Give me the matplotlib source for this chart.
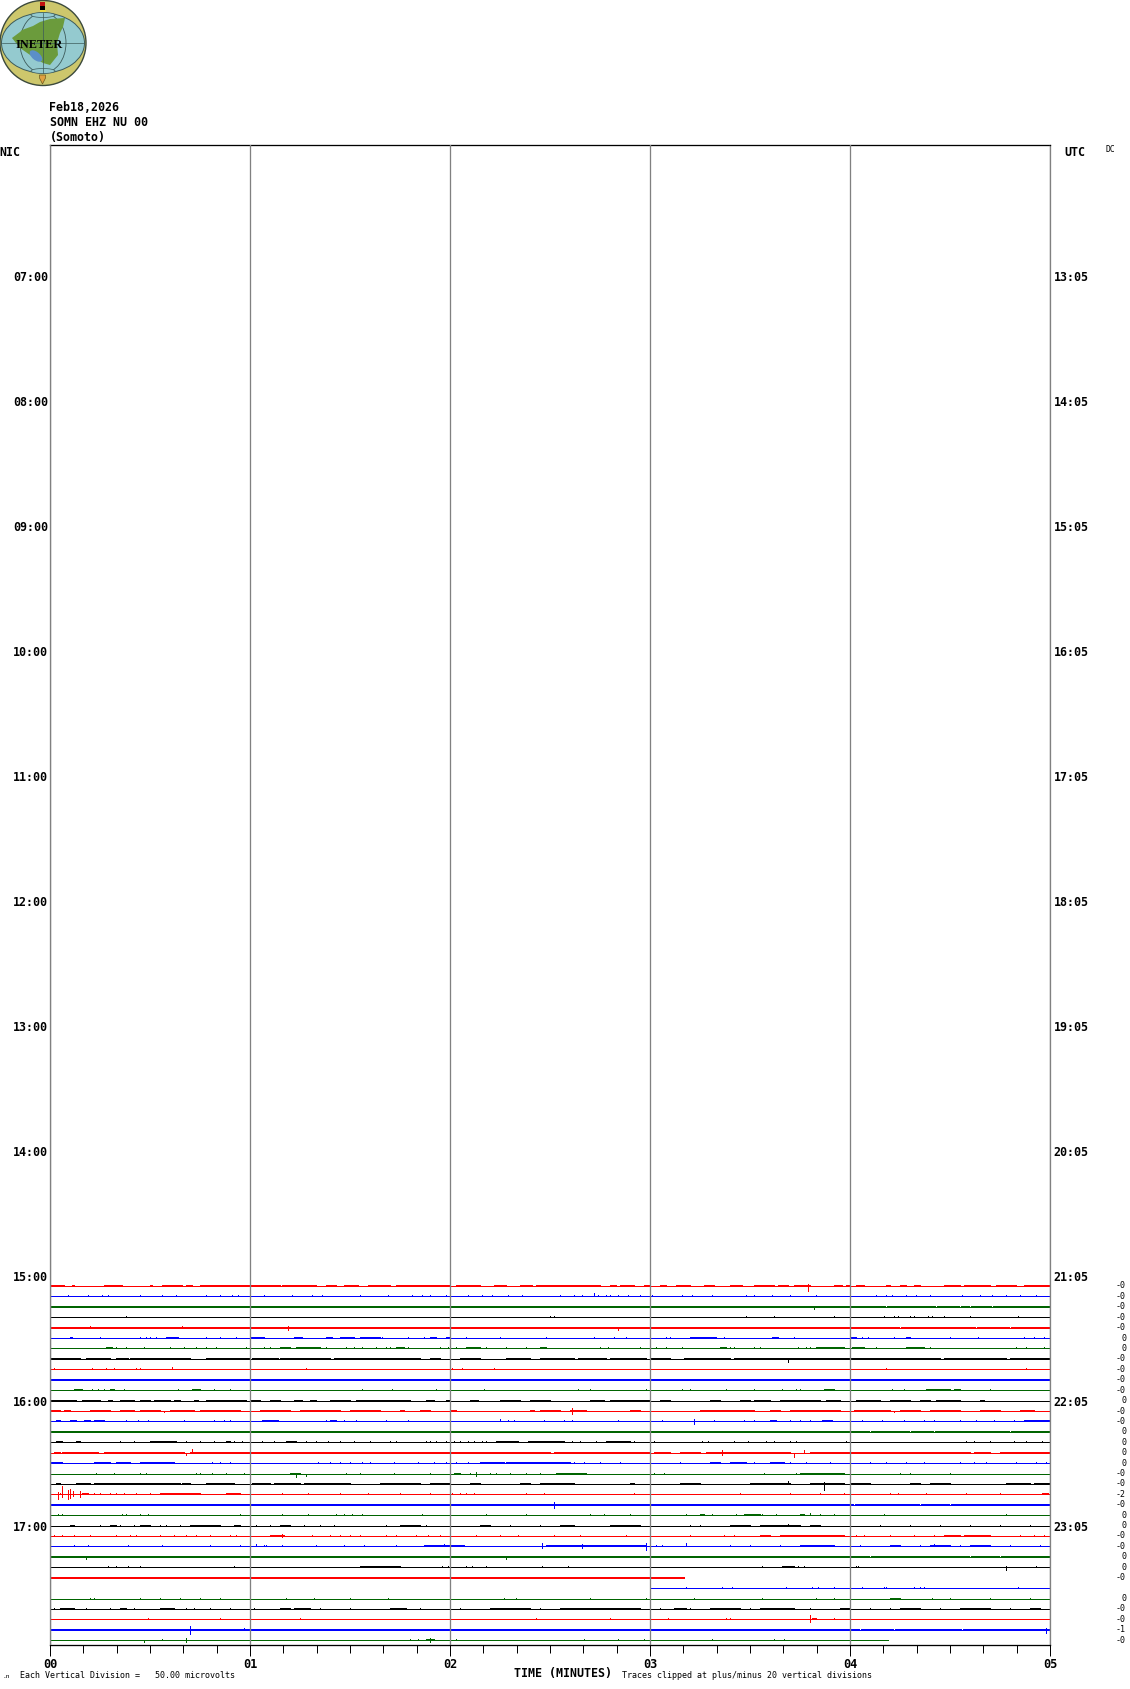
import numpy as np
from matplotlib import pyplot as plt
from matplotlib.patches import Ellipse, Polygon, Rectangle

# helicorder page, SOMN EHZ NU 00
hour_ticks = [7, 8, 9, 10, 11, 12, 13, 14, 15, 16, 17]
nic_labels = ["07:00", "08:00", "09:00", "10:00", "11:00", "12:00", "13:00", "14:00", "15:00", "16:00", "17:00"]
utc_labels = ["13:05", "14:05", "15:05", "16:05", "17:05", "18:05", "19:05", "20:05", "21:05", "22:05", "23:05"]
minute_ticks = [0, 1, 2, 3, 4, 5]
minute_labels = ["00", "01", "02", "03", "04", "05"]

trace_colors = ["red", "blue", "#006400", "black"]

# per row: first and last minute drawn
row_start = [0] * 29 + [3.0] + [0] * 5
row_end = [5] * 28 + [3.17, 5] + [5] * 4 + [4.19]
row_means = ["-0", "-0", "-0", "-0", "-0", "0", "0", "-0", "-0", "-0", "-0", "0", "-0", "-0", "0", "0", "0", "0",
             "-0", "-0", "-2", "-0", "0", "0", "-0", "-0", "0", "0", "-0", "", "0", "-0", "-0", "-1", "-0"]

# stretches (minutes) where the trace is two pixels thick
busy = [
    [(0, .07), (.11, .12), (.27, .36), (.5, .51), (.56, .66), (.68, .71), (.75, 1), (1, 1.15), (1.16, 1.33), (1.38, 1.43), (1.47, 1.54), (1.59, 1.65),
     (1.65, 1.7), (1.73, 2), (2.03, 2.15), (2.22, 2.28), (2.35, 2.41), (2.43, 2.75), (2.8, 2.83), (2.85, 2.92), (2.97, 3), (3.05, 3.08), (3.13, 3.2), (3.27, 3.32), (3.4, 3.46), (3.52, 3.62),
     (3.64, 3.69), (3.72, 3.8), (3.92, 3.96), (3.98, 4), (4.03, 4.07), (4.18, 4.2), (4.25, 4.28), (4.32, 4.35), (4.47, 4.55), (4.57, 4.7), (4.73, 4.83), (4.87, 5)],
    [],
    [(0, 5)],
    [],
    [(0, 5)],
    [(.1, .11), (.58, .64), (1, 1.07), (1.22, 1.26), (1.38, 1.41), (1.45, 1.52), (1.55, 1.65), (1.9, 1.93), (1.98, 2), (3.2, 3.33), (3.61, 3.64), (4, 4.03), (4.28, 4.3)],
    [(.28, .31), (1.15, 1.2), (1.23, 1.35), (1.73, 1.77), (2.08, 2.15), (2.45, 2.48), (3.35, 3.38), (3.83, 3.97), (4.01, 4.07), (4.28, 4.37)],
    [(0, .15), (.18, .3), (.33, .39), (.4, .7), (.78, 1), (1.01, 1.14), (1.15, 1.4), (1.42, 1.65), (1.65, 1.85), (1.9, 1.95), (2.05, 2.15), (2.28, 2.4), (2.45, 2.62), (2.64, 2.78), (2.8, 2.98),
     (3, 3.1), (3.17, 3.4), (3.42, 3.5), (3.5, 3.75), (3.75, 4), (4, 4.45), (4.47, 4.78), (4.8, 5)],
    [],
    [(0, 5)],
    [(.12, .16), (.3, .32), (.71, .75), (3.87, 3.92), (4.38, 4.5), (4.52, 4.55)],
    [(0, .13), (.16, .25), (.29, .31), (.35, .42), (.45, .5), (.52, .6), (.62, .65), (.72, .74), (.78, .98), (1, 1.05), (1.1, 1.15), (1.22, 1.26), (1.3, 1.33), (1.4, 1.5), (1.53, 1.65),
     (1.65, 1.8), (1.88, 1.92), (1.98, 2), (2.1, 2.14), (2.25, 2.35), (2.4, 2.5), (2.7, 2.77), (2.8, 3), (3.05, 3.1), (3.3, 3.35), (3.45, 3.5), (3.52, 3.6), (3.65, 3.85), (3.88, 3.95),
     (4.03, 4.15), (4.2, 4.3), (4.35, 4.4), (4.43, 4.55), (4.65, 4.67)],
    [(0, .05), (.07, .1), (.2, .3), (.35, .42), (.45, .55), (.6, .72), (.75, .95), (1.05, 1.2), (1.25, 1.45), (1.5, 1.65), (1.75, 1.77), (1.85, 1.9), (2, 2.03), (2.4, 2.42), (2.45, 2.55),
     (2.6, 2.68), (2.9, 2.95), (3.25, 3.52), (3.6, 3.65), (3.7, 3.95), (4.02, 4.2), (4.25, 4.35), (4.4, 4.55), (4.65, 4.75), (4.85, 4.92)],
    [(.03, .05), (.1, .13), (.17, .2), (.22, .27), (1.06, 1.14), (1.4, 1.43), (3.6, 3.63), (3.86, 3.91), (4.87, 5)],
    [(0, 5)],
    [(.03, .06), (.13, .15), (.5, .63), (.88, .9), (1.18, 1.23), (2.23, 2.34), (2.39, 2.57), (2.78, 2.9)],
    [(.02, .05), (.06, .24), (.27, .67), (.7, 1), (1, 1.9), (1.65, 2), (2, 2.5), (2.52, 3), (3.02, 3.1), (3.15, 3.25), (3.28, 3.7), (3.8, 4.6), (4.62, 4.7), (4.75, 5)],
    [(0, .06), (.22, .3), (.33, .4), (.45, .62), (2.15, 2.27), (2.28, 2.6), (3.3, 3.35), (3.4, 3.48), (3.6, 3.67)],
    [(1.2, 1.25), (2.02, 2.05), (2.53, 2.68), (3.75, 3.97)],
    [(.03, .05), (.13, .2), (.22, .65), (.66, .7), (.78, .92), (1.01, 1.1), (1.12, 1.25), (1.27, 1.5), (1.65, 1.85), (1.9, 2), (2.1, 2.15), (2.35, 2.4), (2.45, 2.62), (2.9, 2.92), (3.15, 3.25),
     (3.5, 3.7), (3.8, 3.97), (4, 4.1), (4.3, 4.35), (4.4, 4.5), (4.78, 4.9), (4.92, 5)],
    [(.16, .19), (.55, .75), (.88, .95), (4.96, 4.99)],
    [(0, 5)],
    [(3.25, 3.27), (3.47, 3.55), (3.75, 3.77)],
    [(.1, .12), (.3, .33), (.45, .5), (.7, .85), (.92, .95), (1.15, 1.2), (1.75, 1.85), (2.15, 2.2), (2.55, 2.62), (2.8, 2.95), (3.4, 3.5), (3.55, 3.75), (3.8, 3.85)],
    [(1.1, 1.15), (1.15, 1.17), (3.55, 3.6), (3.65, 3.97), (4.47, 4.55), (4.57, 4.7)],
    [(1.87, 2.07), (2.48, 2.6), (2.6, 2.98), (3.75, 3.92), (4.2, 4.25), (4.4, 4.5), (4.6, 4.7)],
    [(0, 5)],
    [(1.55, 1.75), (3.66, 3.72)],
    [(0, 3.17)],
    [],
    [(4.2, 4.25)],
    [(.05, .12), (.35, .38), (.55, .62), (1.15, 1.2), (1.22, 1.3), (1.7, 1.78), (2.2, 2.4), (2.55, 2.95), (3.12, 3.18), (3.3, 3.45), (3.55, 3.72), (3.95, 4), (4.25, 4.35), (4.55, 4.7), (4.9, 4.95)],
    [(3.81, 3.83)],
    [(0, 5)],
    [(1.88, 1.92)],
]

# white dots in the rows that stay thick all the way
holes = {
    2: [.08, .18, .2, .25, .43, .48, .56, .61, .68, .75, .83, .92, 1.06, 1.16, 1.26, 1.31, 1.41, 1.51, 1.58, 1.7, 1.72, 1.77, 1.82, 2.01, 2.13, 2.23,
        2.33, 2.4, 2.48, 2.65, 2.68, 2.78, 2.85, 3.02, 3.1, 3.22, 3.33, 3.5, 3.55, 3.66, 3.8, 3.9, 4.0, 4.18, 4.32, 4.43, 4.55, 4.6, 4.71, 4.82, 4.9],
    4: [.1, .17, .22, .3, .33, .42, .47, .53, .6, .7, .76, .83, .9, .96, 1.04, 1.1, 1.22, 1.3, 1.37, 1.45, 1.54, 1.7, 1.75, 1.82, 1.87, 1.96, 2.03, 2.1,
        2.18, 2.24, 2.31, 2.38, 2.45, 2.58, 2.68, 2.75, 2.88, 3.03, 3.1, 3.24, 3.4, 3.46, 3.55, 3.62, 3.7, 3.8, 3.93, 4.0, 4.12, 4.25, 4.37, 4.63, 4.7, 4.8, 4.92],
    9: [.1, .28, .33, .45, .53, .62, .7, .76, .8, .82, .85, .87, .89, .91, .93, .95, .97, 1.02, 1.1, 1.17, 1.24, 1.35, 1.42, 1.52, 1.6, 1.7, 1.75, 1.85, 1.93,
        2.03, 2.15, 2.27, 2.35, 2.44, 2.6, 2.95, 3.05, 3.1, 3.2, 3.3, 3.38, 3.45, 3.6],
    14: [.03, .08, .26, .3, .33, .42, .5, .6, .68, .78, .85, .95, 1.1, 1.2, 1.3, 1.42, 1.55, 1.62, 1.7, 1.78, 1.85, 1.95, 2.03, 2.14, 2.25, 2.35, 2.45, 2.6,
         2.7, 2.85, 2.95, 3.15, 3.2, 3.3, 3.38, 3.5, 3.6, 3.7, 3.8, 3.95, 4.1, 4.3, 4.42, 4.7, 4.8, 4.9],
    21: [.27, .45, .6, .72, .76, .95, 1.03, 1.1, 1.18, 1.3, 1.42, 1.58, 1.72, 1.8, 1.95, 2.1, 2.3, 2.44, 2.7, 2.8, 2.93, 3.02, 3.15, 3.3, 3.42, 3.6, 3.72, 3.88, 4.02, 4.2, 4.35, 4.5, 4.62, 4.78, 4.9],
    26: [.1, .22, .3, .42, .55, .68, .8, .93, 1.12, 1.3, 1.46, 1.6, 1.75, 1.87, 2.02, 2.18, 2.36, 2.55, 2.7, 2.9, 3.1, 3.22, 3.4, 3.55, 3.7, 3.9, 4.1, 4.28, 4.4, 4.6, 4.75, 4.88],
    28: [.06, .2, .37, .43, .5, .62, .78, .95, 1.12, 1.3, 1.48, 1.62, 1.74, 1.95, 2.2, 2.45, 2.6, 2.72, 2.8, 2.85, 2.92, 3.03, 3.08, 3.11],
    33: [.2, .35, .5, .57, .8, .95, 1.12, 1.28, 1.44, 1.6, 1.82, 2.02, 2.3, 2.55, 2.72, 2.98, 3.14, 3.28, 3.5, 3.68, 3.85, 4.05, 4.22, 4.4, 4.56, 4.7, 4.88],
}

# one pixel specks above the trace
specks = [
    [],
    [.09, .19, .26, .29, .45, .56, .63, .78, .85, .91, .94, 1.07, 1.21, 1.31, 1.36, 1.55, 1.69, 1.81, 1.86, 1.9, 1.98, 2.09, 2.16, 2.21, 2.29, 2.36, 2.55, 2.62, 2.66, 2.74, 2.78, 2.8, 2.84, 2.89, 2.95,
     3.01, 3.16, 3.21, 3.31, 3.48, 3.52, 3.61, 3.7, 3.83, 4.13, 4.18, 4.21, 4.28, 4.33, 4.4, 4.56, 4.65, 4.71, 4.78, 4.85, 4.93],
    [],
    [.38, 2.5, 2.52, 3.48, 3.62, 3.92, 4.17, 4.22, 4.24, 4.3, 4.32, 4.39, 4.41, 4.47, 4.6, 4.84],
    [],
    [.25, .45, .48, .5, .53, .78, .85, .93, 1.66, 1.79, 1.87, 2.08, 2.25, 2.48, 2.72, 2.82, 2.88, 3.08, 3.1, 3.37, 3.72, 4.06, 4.09, 4.22, 4.5, 4.64, 4.87, 4.92, 4.97],
    [.33, .38, .47, .6, .67, .73, .78, .83, .98, 1, 1.07, 1.1, 1.38, 1.48, 1.52, 1.56, 1.63, 1.68, 1.7, 1.79, 1.95, 1.99, 2.03, 2.18, 2.28, 2.38, 2.75, 2.79, 2.95, 3.03, 3.08, 3.16, 3.4, 3.42,
     3.52, 3.55, 3.74, 3.78, 3.8, 4.13, 4.4, 4.83, 4.88, 4.97],
    [],
    [.02, .21, .28, .32, .43, .45, 1.28, 2.01, 2.06, 2.22, 4.18, 4.88],
    [],
    [.21, .24, .27, .37, .64, .82, .9, 1.56, 1.71, 1.93, 2.17, 2.64, 2.7, 2.98, 3.16, 3.2, 3.38, 3.52, 3.66, 3.73, 3.75, 4.21, 4.27, 4.7],
    [],
    [],
    [.38, .44, .49, .67, .82, .87, .9, 1.38, 1.47, 1.53, 1.68, 1.79, 2.29, 2.32, 2.47, 2.57, 2.61, 2.84, 3.06, 3.32, 3.47, 3.52, 3.6, 3.7, 3.75, 3.8, 3.86, 4, 4.06, 4.16, 4.27, 4.37, 4.42, 4.55, 4.63, 4.72, 4.82],
    [],
    [.35, .42, .51, .68, .75, .82, .92, .96, 1.06, 1.12, 1.28, 1.33, 1.39, 1.45, 1.52, 1.6, 1.7, 1.73, 1.88, 1.9, 1.93, 1.98, 2.02, 2.05, 2.09, 2.12, 2.16, 2.18, 2.61, 2.65, 2.73, 2.78, 2.92, 3.02, 3.26, 3.29, 3.42, 3.49, 3.58, 3.62, 3.7, 3.73, 3.98, 4.58, 4.62, 4.7, 4.82, 4.88, 4.96],
    [],
    [.06, .81, .85, .9, 1.34, 1.4, 1.45, 1.5, 1.56, 1.6, 1.72, 1.84, 1.92, 1.98, 2.03, 2.09, 2.62, 2.67, 2.75, 2.85, 3.15, 3.52, 3.7, 3.78, 3.9, 4, 4.1, 4.18, 4.28, 4.37, 4.55, 4.62, 4.68, 4.83, 4.93, 4.98],
    [.23, .32, .45, .48, .73, .75, .81, .88, .97, 1.48, 1.55, 1.72, 1.9, 2.02, 2.1, 2.2, 2.23, 2.3, 2.38, 2.45, 3.02, 3.07, 3.57, 3.73, 4, 4.25, 4.3, 4.5],
    [],
    [.05, .22, .25, .3, .33, .37, .43, .5, 1.16, 1.29, 1.45, 1.59, 1.75, 1.9, 2.01, 2.05, 2.08, 2.12, 2.38, 2.47, 2.92, 3.45, 3.7, 3.85, 3.97, 4.2, 4.24, 4.38, 4.58, 4.75],
    [],
    [.04, .06, .36, .38, .45, .49, .95, 1.16, 1.29, 1.43, 1.47, 1.51, 1.56, 1.86, 2.18, 2.38, 2.7, 2.77, 2.9, 3.18, 3.31, 3.43, 3.52, 3.56, 3.63, 3.85, 3.92, 4.17, 4.78],
    [.25, .3, .35, .42, .55, .58, .65, 1.03, 1.1, 1.27, 1.35, 1.42, 1.68, 1.88, 2, 2.3, 2.45, 3.2, 3.25, 4.15, 4.3, 4.45, 4.6, 4.75, 4.9],
    [.02, .06, .12, .2, .33, .4, .43, .55, .62, .68, .73, .8, .9, .93, 1.31, 1.4, 1.45, 1.5, 1.55, 1.68, 1.73, 1.83, 1.89, 1.95, 2.13, 2.25, 2.34, 2.52, 2.65, 2.88, 3.2, 3.37, 3.42, 4.03, 4.07, 4.2, 4.32, 4.42, 4.85, 4.92, 4.97],
    [.12, .19, .39, .56, .8, .95, 1.07, 1.08, 1.16, 1.33, 1.47, 1.57, 1.73, 3.03, 3.06, 3.4, 3.5, 3.65, 4.05, 4.2, 4.35, 4.55, 4.8, 4.95],
    [],
    [.29, .33, .39, .45, .92, 1.55, 1.63, 1.7, 1.96, 1.99, 2.08, 2.11, 2.18, 2.46, 2.59, 3.56, 3.74, 3.77, 4.03, 4.04, 4.78, 4.93],
    [],
    [3.18, 3.36, 3.41, 3.68, 3.81, 3.84, 3.92, 4.06, 4.17, 4.18, 4.32, 4.35, 4.37, 4.84],
    [.2, .22, .45, .55, .65, .75, .85, 1.18, 1.32, 1.5, 1.69, 2.27, 2.33, 2.7, 2.98, 3.22, 3.56, 3.83, 3.92, 4, 4.41, 4.5, 4.7, 4.9],
    [.02, .18, .3, .42, .68, .72, .8, .9, 1.02, 1.35, 1.5, 1.85, 2, 2.05, 2.45, 3.05, 3.2, 3.5, 3.8, 4.1, 4.2, 4.45, 4.8],
    [.49, .85, 1.25, 2.43, 2.8, 3.09, 3.38, 3.4, 3.92],
    [.35, .6, .81, 1.08, 3.96, 3.35, 3.38, 3.42],
    [0, .56, 1.8, 1.84, 2.03, 2.67, 2.84, 2.97, 3.31, 3.62, 3.67],
]

# bigger wiggles: row, minute, pixels up, pixels down
event_row = [0, 1, 2, 4, 4, 4, 4, 7, 8, 12, 12, 12, 13, 13, 16, 16, 16, 16, 16, 18, 18, 18, 19, 19, 20, 20, 20, 20, 20, 20, 21, 22, 23, 24, 25, 25, 25, 25, 25, 25, 25, 25, 26, 26, 27, 32, 33, 33, 33, 34, 34, 34]
event_min = [3.79, 2.72, 3.82, .2, .66, 1.19, 2.84, 3.69, .61, .57, 2.61, 4.22, 2.25, 3.22, .68, .71, 3.36, 3.72, 3.77, 1.23, 1.28, 2.13, 3.69, 3.87, .04, .06, .09, .1, .115, .15, 2.52, 3.8, 3.69, 1.16,
             1.03, 1.97, 2, 2.46, 2.66, 2.98, 3.18, 4.42, .18, 2.28, 4.78, 3.8, .7, .97, 4.98, .47, .68, 1.9]
event_up = [2, 3, 0, 2, 2, 2, 1, 0, 2, 0, 3, 0, 2, 2, 0, 4, 3, 0, 3, 0, 0, 2, 3, 2, 2, 8, 4, 5, 3, 3, 3, 2, 2, 2, 2, 2, 2, 3, 2, 3, 3, 2, 0, 0, 0, 4, 4, 2, 2, 0, 2, 2]
event_down = [5, 0, 2, 0, 0, 2, 2, 3, 0, 1, 3, 1, 0, 3, 2, 0, 2, 4, 0, 3, 2, 2, 0, 6, 5, 3, 5, 4, 2, 3, 3, 0, 0, 1, 0, 0, 3, 2, 2, 4, 0, 0, 2, 2, 3, 3, 4, 0, 3, 2, 2, 2]

PX = 1 / 125  # one pixel in hours on the y axis
LW = 0.72     # one pixel line width at dpi 100
DOT = 0.005   # one pixel in minutes


def row_y(r):
    return 15 + 5 / 60 + r / 12


def split_span(a, b, cuts):
    pieces = []
    x = a
    for c in sorted(cuts):
        if c <= x or c >= b:
            continue
        pieces.append((x, c - DOT / 2))
        x = c + DOT / 2
    pieces.append((x, b))
    return pieces


def draw_logo(o):
    line = "#3c5a5a"
    o.add_patch(Ellipse((43, 43), 86, 85, fc="#cdc76c", ec="#3c4a3c", lw=1))
    o.add_patch(Ellipse((43, 43), 83, 60, fc="#94cacf", ec=line, lw=0.7))
    o.add_patch(Ellipse((43, 43), 46, 60, fc="none", ec=line, lw=0.6))
    o.plot([2, 84], [43, 43], color=line, lw=0.5)
    o.plot([43, 43], [13, 73], color=line, lw=0.5)
    land = [(12, 38), (20, 32), (22, 30), (33, 26), (40, 22), (50, 19), (65, 18), (63, 27), (60, 33), (57, 43),
            (58, 55), (50, 65), (43, 63), (33, 57), (20, 48)]
    o.add_patch(Polygon(land, fc="#6b9b3c", ec="none"))
    o.add_patch(Ellipse((36, 56), 15, 8, angle=40, fc="#5b8fc8", ec="none"))
    o.add_patch(Ellipse((43, 15), 24, 5, fc="#94cacf", ec=line, lw=0.5))
    o.add_patch(Ellipse((43, 71), 24, 5, fc="#94cacf", ec=line, lw=0.5))
    o.add_patch(Rectangle((40, 2), 5, 4, fc="#c01010", ec="none"))
    o.add_patch(Rectangle((40, 6), 5, 4, fc="black", ec="none"))
    o.add_patch(Rectangle((39.5, 10), 6, 2, fc="#e8d840", ec="none"))
    o.add_patch(Polygon([(39.5, 75), (45.5, 75), (45.5, 78), (42.5, 84), (39.5, 78)], fc="#e0a040", ec="#6a5a20", lw=0.5))
    o.text(39.5, 44.5, "INETER", family="Liberation Serif", weight="bold", size=8.8, ha="center", va="center", color="black")


fig = plt.figure(figsize=(11.3, 16.89), dpi=100)
plt.rcParams['font.family'] = 'DejaVu Sans Mono'

ax = fig.add_axes([50 / 1130, 1 - 1644.5 / 1689, 1000 / 1130, 1499.5 / 1689])
ax.set_xlim(0, 5)
ax.set_ylim(row_y(0) + 358.5 / 125, row_y(0) - 1141 / 125)

ax.set_xticks(minute_ticks, minute_labels, fontsize=8.6, fontweight="bold")
ax.set_xticks(np.arange(0, 5.001, 1 / 6), minor=True)
ax.tick_params(axis="x", which="major", length=8, width=LW, pad=2)
ax.tick_params(axis="x", which="minor", length=5.6, width=LW)
ax.grid(axis="x", which="major", color="#808080", lw=LW * 1.3)
ax.set_axisbelow(False)
ax.set_yticks(hour_ticks, nic_labels, fontsize=8.4, fontweight="bold")
ax.tick_params(axis="y", length=0, pad=1.5)
for side in ["left", "right"]:
    ax.spines[side].set_color("#808080")
    ax.spines[side].set_linewidth(LW * 1.3)
for side in ["top", "bottom"]:
    ax.spines[side].set_color("black")
    ax.spines[side].set_linewidth(LW * 1.3)

ax2 = ax.twinx()
ax2.set_ylim(ax.get_ylim())
ax2.set_yticks(hour_ticks, utc_labels, fontsize=8.4, fontweight="bold")
ax2.tick_params(axis="y", length=0, pad=2.5)
for s in ax2.spines.values():
    s.set_visible(False)

for r in range(len(row_start)):
    color = trace_colors[r % 4]
    y = row_y(r)
    ax.hlines(y, row_start[r], row_end[r], color=color, lw=LW, antialiased=False, zorder=1)
    for a, b in busy[r]:
        for p, q in split_span(a, b, holes.get(r, [])):
            ax.hlines(y - PX, p, q, color=color, lw=LW, antialiased=False, zorder=1)
    if specks[r]:
        ax.vlines(specks[r], y, y - PX, color=color, lw=LW, antialiased=False, zorder=1)
    if row_means[r]:
        ax.annotate(row_means[r], xy=(1126, y), xycoords=("figure pixels", "data"), fontsize=6,
                    ha="right", va="center", annotation_clip=False)

for r, m, u, d in zip(event_row, event_min, event_up, event_down):
    y = row_y(r)
    ax.vlines(m, y + d * PX, y - u * PX, color=trace_colors[r % 4], lw=LW, antialiased=False, zorder=1)

# header, footer and logo sit on a pixel overlay
over = fig.add_axes([0, 0, 1, 1], facecolor="none")
over.set_xlim(0, 1130)
over.set_ylim(1689, 0)
over.axis("off")
draw_logo(over)

over.text(49.5, 107, "Feb18,2026", fontsize=8.4, fontweight="bold", va="center")
over.text(49.5, 122, "SOMN EHZ NU 00", fontsize=8.4, fontweight="bold", va="center")
over.text(49.5, 137, "(Somoto)", fontsize=8.4, fontweight="bold", va="center")
over.text(-1, 152, "NIC", fontsize=8.4, fontweight="bold", va="center")
over.text(1064, 152, "UTC", fontsize=8.4, fontweight="bold", va="center")
over.text(1106, 149, "DC", fontsize=5.8, va="center")
over.text(2, 1677, ".n", fontsize=4.5, va="center")
over.text(20.5, 1675, "Each Vertical Division =   50.00 microvolts", fontsize=6, va="center")
over.text(514, 1673.5, "TIME (MINUTES)", fontsize=8.4, fontweight="bold", va="center")
over.text(622, 1675, "Traces clipped at plus/minus 20 vertical divisions", fontsize=6, va="center")

fig.savefig("out.png", dpi=100)
